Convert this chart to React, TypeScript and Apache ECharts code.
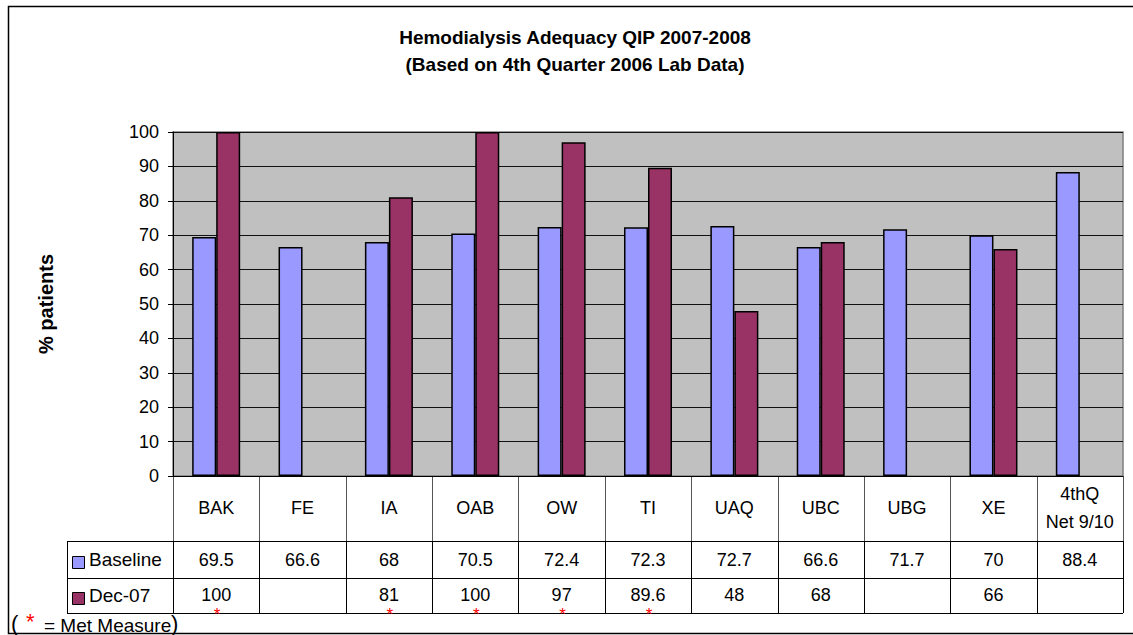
import React, { useEffect, useRef } from "react";
import * as echarts from "echarts";

const categories = ["BAK", "FE", "IA", "OAB", "OW", "TI", "UAQ", "UBC", "UBG", "XE", "4thQ\nNet 9/10"];
const baseline: (number | null)[] = [69.5, 66.6, 68, 70.5, 72.4, 72.3, 72.7, 66.6, 71.7, 70, 88.4];
const dec07: (number | null)[] = [100, null, 81, 100, 97, 89.6, 48, 68, null, 66, null];
const metMeasure = [true, false, true, true, true, true, false, false, false, false, false];
const seriesNames = ["Baseline", "Dec-07"];
const seriesColors = ["#9999FF", "#993366"];
const titleLines = ["Hemodialysis Adequacy QIP 2007-2008", "(Based on 4th Quarter 2006 Lab Data)"];
const yAxisTitle = "% patients";
const noteText = "= Met Measure";

const FONT = "'Liberation Sans', Arial, sans-serif";

export default function App() {
  const ref = useRef<HTMLDivElement>(null);
  useEffect(() => {
    document.body.style.margin = "0";
    if (!ref.current) return;
    const chart = echarts.init(ref.current, null, { renderer: "svg" });

    const gLeft = 173, gTop = 132, gW = 950, gH = 344;
    const gRight = gLeft + gW, gBottom = gTop + gH;
    const cw = gW / categories.length;
    const rowCatBottom = 541, rowBaseBottom = 578, rowDecBottom = 613;
    const legLeft = 67;

    const g: any[] = [];
    g.push({ type: "rect", shape: { x: 8.5, y: 6.5, width: 1140, height: 627 }, style: { fill: "none", stroke: "#000", lineWidth: 1.5 }, silent: true });
    const ln = (x1: number, y1: number, x2: number, y2: number, c = "#000") =>
      g.push({ type: "line", shape: { x1, y1, x2, y2 }, style: { stroke: c, lineWidth: 1 }, silent: true });
    for (let k = 0; k <= categories.length; k++) {
      const x = Math.round(gLeft + k * cw) + 0.5;
      ln(x, gBottom, x, rowCatBottom, "#555");
      ln(x, rowCatBottom, x, rowDecBottom);
    }
    ln(legLeft + 0.5, rowCatBottom, legLeft + 0.5, rowDecBottom);
    ln(legLeft, rowCatBottom + 0.5, gRight, rowCatBottom + 0.5);
    ln(legLeft, rowBaseBottom + 0.5, gRight, rowBaseBottom + 0.5);
    ln(legLeft, rowDecBottom + 0.5, gRight, rowDecBottom + 0.5);

    const txt = (text: string, x: number, y: number, extra: any = {}) =>
      g.push({
        type: "text", x, y, silent: true,
        style: { text, fill: "#000", fontSize: 18, fontFamily: FONT, align: "center", verticalAlign: "middle", ...extra },
      });

    categories.forEach((c, i) => {
      const cx = gLeft + (i + 0.5) * cw;
      txt(c, cx, 508, { lineHeight: 28 });
      if (baseline[i] != null) txt(String(baseline[i]), cx, 560);
      if (dec07[i] != null) txt(String(dec07[i]), cx, 595);
      if (metMeasure[i]) txt("*", cx + 1, 614, { fill: "#FF0000", fontSize: 17 });
    });
    [rowCatBottom, rowBaseBottom].forEach((top, s) => {
      const cy = (top + (s === 0 ? rowBaseBottom : rowDecBottom)) / 2 + 3;
      g.push({ type: "rect", shape: { x: 72.5, y: cy - 6, width: 12, height: 12 }, style: { fill: seriesColors[s], stroke: "#000", lineWidth: 1 }, silent: true });
      txt(seriesNames[s], 89, cy - 3, { align: "left", fontSize: 19 });
    });
    // met measure note
    txt("(", 11, 623, { align: "left", fontSize: 22 });
    txt("*", 26, 621, { align: "left", fontSize: 22, fill: "#FF0000" });
    txt(noteText, 44, 625, { align: "left", fontSize: 19 });
    txt(")", 171, 623, { align: "left", fontSize: 22 });

    chart.setOption({
      animation: false,
      title: {
        text: titleLines.join("\n"),
        left: 575, top: 24, padding: 0, textAlign: "center",
        textStyle: { fontSize: 19, fontWeight: "bold", fontFamily: FONT, color: "#000", lineHeight: 27 },
      },
      grid: { left: gLeft, top: gTop, width: gW, height: gH, show: true, backgroundColor: "#C0C0C0", borderColor: "#808080", borderWidth: 1.5 },
      xAxis: {
        type: "category", data: categories,
        axisLabel: { show: false }, axisTick: { show: false },
        axisLine: { show: true, lineStyle: { color: "#000", width: 1 } },
      },
      yAxis: {
        type: "value", min: 0, max: 100, interval: 10,
        name: yAxisTitle, nameLocation: "middle", nameGap: 117, nameRotate: 90,
        nameTextStyle: { fontSize: 20, fontWeight: "bold", fontFamily: FONT, color: "#000" },
        axisLine: { show: true, lineStyle: { color: "#000", width: 1 } },
        axisTick: { show: true, length: 5, lineStyle: { color: "#000" } },
        axisLabel: { fontSize: 18, fontFamily: FONT, color: "#000", margin: 14 },
        splitLine: { show: true, lineStyle: { color: "#111", width: 1 } },
      },
      series: [
        { name: seriesNames[0], type: "bar", data: baseline, barWidth: 24, barGap: "0%", itemStyle: { color: seriesColors[0], borderColor: "#000", borderWidth: 1.5 } },
        { name: seriesNames[1], type: "bar", data: dec07, barWidth: 24, barGap: "0%", itemStyle: { color: seriesColors[1], borderColor: "#000", borderWidth: 1.5 } },
      ],
      graphic: g,
    });
    return () => chart.dispose();
  }, []);
  return <div ref={ref} style={{ width: 1133, height: 635 }} />;
}
